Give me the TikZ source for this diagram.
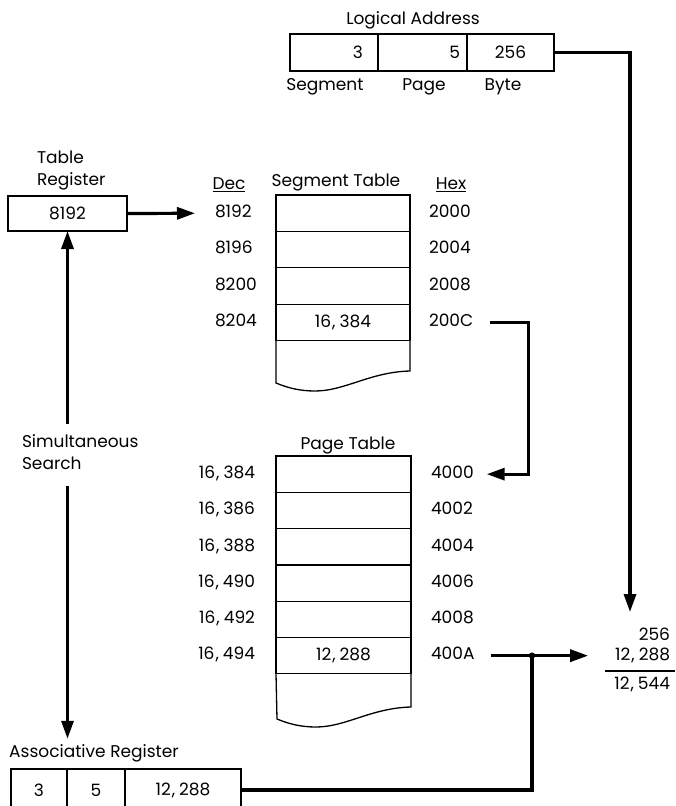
\documentclass[tikz,border=0pt]{standalone}
\usepackage{fontspec}
\setmainfont{Poppins}
\usetikzlibrary{positioning, arrows.meta}

\newcommand{\cma}{\kern1pt,\kern4pt}

\tikzset{
  lbl/.style={inner sep=0pt, outer sep=0pt, text height=11.5pt, text depth=3pt},
  twoline/.style={inner sep=0pt, outer sep=0pt, align=left, anchor=west},
  cell/.style={draw, line width=1.3pt, inner sep=0pt, outer sep=0pt, minimum height=36.4pt},
  conn/.style={line width=3.2pt},
  arr/.style={conn, -{Triangle[length=18pt,width=12pt]}},
}

\begin{document}
\begin{tikzpicture}[x=1pt,y=-1pt,font=\fontsize{17}{22}\selectfont]
\useasboundingbox (0,0) rectangle (675,806);

% logical address
\node[lbl] (latitle) at (413,20) {Logical Address};
\node[cell, minimum width=88pt, minimum height=37pt, text width=58pt, align=right] (la1) at (334,52.5) {3};
\node[cell, minimum width=89pt, minimum height=37pt, text width=75pt, align=right] (la2) at (422.5,52.5) {5};
\node[cell, minimum width=87pt, minimum height=37pt] (la3) at (510.5,52.5) {256};
\node[lbl] (lseg) at (325,86) {Segment};
\node[lbl] (lpag) at (424,86) {Page};
\node[lbl] (lbyt) at (503,86) {Byte};

% table register
\node[twoline] (trtitle) at (37,171) {Table\\Register};
\node[cell, minimum width=119pt, minimum height=35pt] (treg) at (67.5,213.5) {8192};

% segment table
\node[lbl] (dec) at (229,185) {\underline{Dec}};
\node[lbl] (hex) at (451,185) {\underline{Hex}};
\node[lbl] (sttitle) at (336,182) {Segment Table};
\node[cell, minimum width=134pt] (s0) at (343,213.2) {};
\node[cell, minimum width=134pt, below=0pt of s0] (s1) {};
\node[cell, minimum width=134pt, below=0pt of s1] (s2) {};
\node[cell, minimum width=134pt, below=0pt of s2] (s3) {16\cma384};
\draw[line width=1.3pt] (s3.south east) -- (410,371)
  .. controls (370,372) and (345,391) .. (315,391)
  .. controls (300,391) and (288,388) .. (276,383) -- (s3.south west);
\foreach \v [count=\i from 0] in {8192,8196,8200,8204}
  \node[lbl, anchor=west] (d\i) at (215,213.2+36.4*\i) {\v};
\foreach \v [count=\i from 0] in {2000,2004,2008,200C}
  \node[lbl, anchor=west] (h\i) at (429,213.2+36.4*\i) {\v};

% page table
\node[lbl] (pttitle) at (348,445) {Page Table};
\node[cell, minimum width=135pt, minimum height=36.3pt] (p0) at (343.5,474.15) {};
\node[cell, minimum width=135pt, minimum height=36.3pt, below=0pt of p0] (p1) {};
\node[cell, minimum width=135pt, minimum height=36.3pt, below=0pt of p1] (p2) {};
\node[cell, minimum width=135pt, minimum height=36.3pt, below=0pt of p2] (p3) {};
\node[cell, minimum width=135pt, minimum height=36.3pt, below=0pt of p3] (p4) {};
\node[cell, minimum width=135pt, minimum height=36.3pt, below=0pt of p4] (p5) {12\cma288};
\draw[line width=1.3pt] (p5.south east) -- (411,707)
  .. controls (371,708) and (346,727) .. (316,727)
  .. controls (301,727) and (289,724) .. (277,719) -- (p5.south west);
\foreach \v [count=\i from 0] in {16\cma384,16\cma386,16\cma388,16\cma490,16\cma492,16\cma494}
  \node[lbl, anchor=east] (e\i) at (255,474.15+36.3*\i) {\v};
\foreach \v [count=\i from 0] in {4000,4002,4004,4006,4008,400A}
  \node[lbl, anchor=west] (q\i) at (431,474.15+36.3*\i) {\v};

% search and associative register
\node[twoline] (srch) at (22,452) {Simultaneous\\Search};
\node[lbl] (atitle) at (94,753) {Associative Register};
\node[cell, minimum width=56pt, minimum height=42pt] (a1) at (39,790) {3};
\node[cell, minimum width=58pt, minimum height=42pt] (a2) at (96,790) {5};
\node[cell, minimum width=116pt, minimum height=42pt] (a3) at (183,790) {12\cma288};

% sum
\node[lbl, anchor=east] (n1) at (670,636) {256};
\node[lbl, anchor=east] (n2) at (670,656) {12\cma288};
\node[lbl, anchor=east] (n3) at (670,685) {12\cma544};
\draw[line width=1.2pt] (605,671) -- (675,671);

% connectors
\coordinate (sumtop) at (630,612);
\coordinate (jnx) at (532,0);
\coordinate (jn) at (q5.east -| jnx);
\draw[arr] (la3.east) -| (sumtop);
\draw[arr, shorten >=20pt] (treg.east) -- (d0.west);
\draw[arr, shorten <=17pt, shorten >=13pt] (h3.east) -- ++(55,0) |- (q0.east);
\draw[conn, shorten <=16pt] (q5.east) -- (jn);
\draw[arr, shorten >=27pt] (jn) -- (jn -| n2.west);
\fill (jn) circle (3.2pt);
\draw[conn] (jn) |- (a3.east);
\draw[arr, shorten <=10pt] (srch.north -| treg) -- (treg.south);
\draw[arr, shorten <=16pt, shorten >=7pt] (srch.south -| treg) -- (atitle.north -| treg);
\end{tikzpicture}
\end{document}
